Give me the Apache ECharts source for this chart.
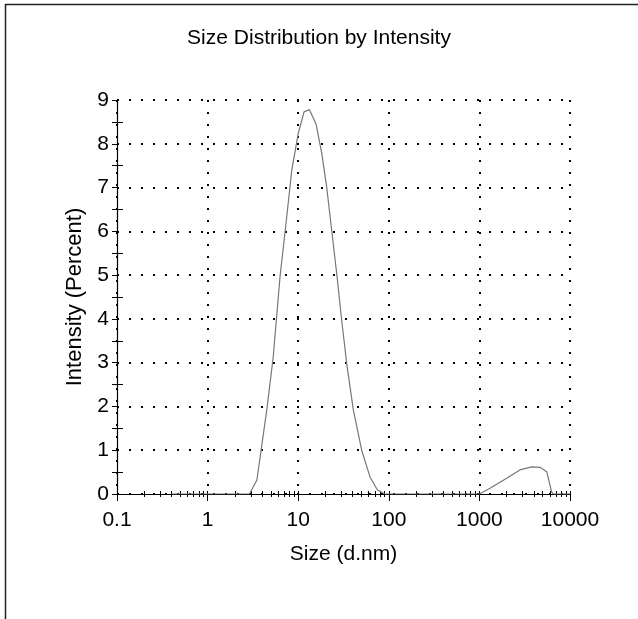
<!DOCTYPE html>
<html>
<head>
<meta charset="utf-8">
<script src="https://cdn.jsdelivr.net/npm/echarts@6/dist/echarts.min.js"></script>
<style>
    html, body { margin: 0; padding: 0; background: #fff; }
    #chart { width: 638px; height: 619px; }
</style>
</head>
<body>
<div id="chart"></div>
<script>
// size (d.nm) and intensity (%)
var sizes = [0.4, 1, 2, 2.9, 3.5, 4.5, 5.3, 6.3, 7.2, 8.5, 10, 11.6, 13.3, 15.7, 18.2, 20.6, 23.4, 26.6, 30.2, 34.3, 40.6, 50.2, 62, 75, 90, 200, 500, 1000, 1310, 2000, 2800, 3780, 4670, 5530, 6270, 6500, 10000]
var intensity = [0, 0, 0, 0, 0.32, 1.92, 3.13, 4.96, 6.03, 7.4, 8.23, 8.73, 8.78, 8.46, 7.78, 7.02, 6.03, 5.04, 3.97, 2.98, 1.92, 1.0, 0.39, 0.09, 0, 0, 0, 0, 0.13, 0.36, 0.55, 0.62, 0.61, 0.51, 0.05, 0, 0]

var xMajorTicks = [0.1, 1, 10, 100, 1000, 10000]
var xMinorTicks = [
    0.2, 0.3, 0.4, 0.5, 0.6, 0.7, 0.8, 0.9,
    2, 3, 4, 5, 6, 7, 8, 9,
    20, 30, 40, 50, 60, 70, 80, 90,
    200, 300, 400, 500, 600, 700, 800, 900,
    2000, 3000, 4000, 5000, 6000, 7000, 8000, 9000
]
var yHalfTicks = [0.5, 1.5, 2.5, 3.5, 4.5, 5.5, 6.5, 7.5, 8.5]

var points = []
for (var i = 0; i < sizes.length; i++) {
    points.push([sizes[i], intensity[i]])
}

var font = 'Liberation Sans, Arial, sans-serif'

function logAxis(extra) {
    var base = {
        type: 'log',
        logBase: 10,
        min: 0.1,
        max: 10000,
        position: 'bottom',
        gridIndex: 0,
        axisLine: { show: false },
        axisLabel: { show: false },
        splitLine: { show: false },
        axisTick: { show: false }
    }
    return Object.assign(base, extra)
}

function valAxis(extra) {
    var base = {
        type: 'value',
        min: 0,
        max: 9,
        interval: 0.5,
        position: 'left',
        gridIndex: 0,
        axisLine: { show: false },
        axisLabel: { show: false },
        splitLine: { show: false },
        axisTick: { show: false }
    }
    return Object.assign(base, extra)
}

var chart = echarts.init(document.getElementById('chart'))

var option = {
    backgroundColor: '#fff',
    animation: false,
    title: {
        text: 'Size Distribution by Intensity',
        left: 'center',
        top: 23,
        textStyle: { fontFamily: font, fontSize: 21, fontWeight: 'normal', color: '#000' }
    },
    graphic: [
        { type: 'line', shape: { x1: 5, y1: 4.5, x2: 638, y2: 4.5 }, style: { stroke: '#222', lineWidth: 1.5 } },
        { type: 'line', shape: { x1: 5.5, y1: 4, x2: 5.5, y2: 619 }, style: { stroke: '#222', lineWidth: 1.5 } }
    ],
    grid: { left: 117, right: 68, top: 100, bottom: 125 },
    xAxis: [
        logAxis({
            name: 'Size (d.nm)',
            nameLocation: 'middle',
            nameGap: 50,
            nameTextStyle: { fontFamily: font, fontSize: 21, color: '#000' },
            axisLine: { show: true, onZero: false, lineStyle: { color: '#000', width: 1.2 } },
            axisLabel: {
                show: true,
                margin: 16,
                fontFamily: font,
                fontSize: 21,
                color: '#000',
                customValues: xMajorTicks,
                formatter: function (v) { return String(Number(v.toPrecision(6))) }
            },
            axisTick: { show: true, customValues: xMajorTicks, length: 7, lineStyle: { color: '#000' } },
            splitLine: { show: true, customValues: xMajorTicks, lineStyle: { color: '#000', width: 2, type: [2, 10] } }
        }),
        logAxis({
            axisTick: { show: true, customValues: xMinorTicks, length: 3, lineStyle: { color: '#000' } }
        }),
        logAxis({
            axisTick: { show: true, inside: true, customValues: xMinorTicks.concat(xMajorTicks), length: 3, lineStyle: { color: '#000' } }
        })
    ],
    yAxis: [
        valAxis({
            interval: 1,
            name: 'Intensity (Percent)',
            nameLocation: 'middle',
            nameGap: 27,
            nameTextStyle: { fontFamily: font, fontSize: 22, color: '#000' },
            axisLine: { show: true, lineStyle: { color: '#000', width: 1.2 } },
            axisLabel: { show: true, margin: 8, fontFamily: font, fontSize: 21, color: '#000' },
            axisTick: { show: true, length: 5, lineStyle: { color: '#000' } },
            splitLine: { show: true, lineStyle: { color: '#000', width: 2, type: [2, 10] } }
        }),
        valAxis({
            axisTick: { show: true, customValues: yHalfTicks, length: 5, lineStyle: { color: '#000' } }
        }),
        valAxis({
            axisTick: { show: true, inside: true, customValues: yHalfTicks, length: 6, lineStyle: { color: '#000' } }
        })
    ],
    series: [
        {
            type: 'line',
            xAxisIndex: 0,
            yAxisIndex: 0,
            data: points,
            symbol: 'none',
            smooth: false,
            lineStyle: { color: '#777', width: 1.2 },
            z: 5
        }
    ]
}

chart.setOption(option)
</script>
</body>
</html>
